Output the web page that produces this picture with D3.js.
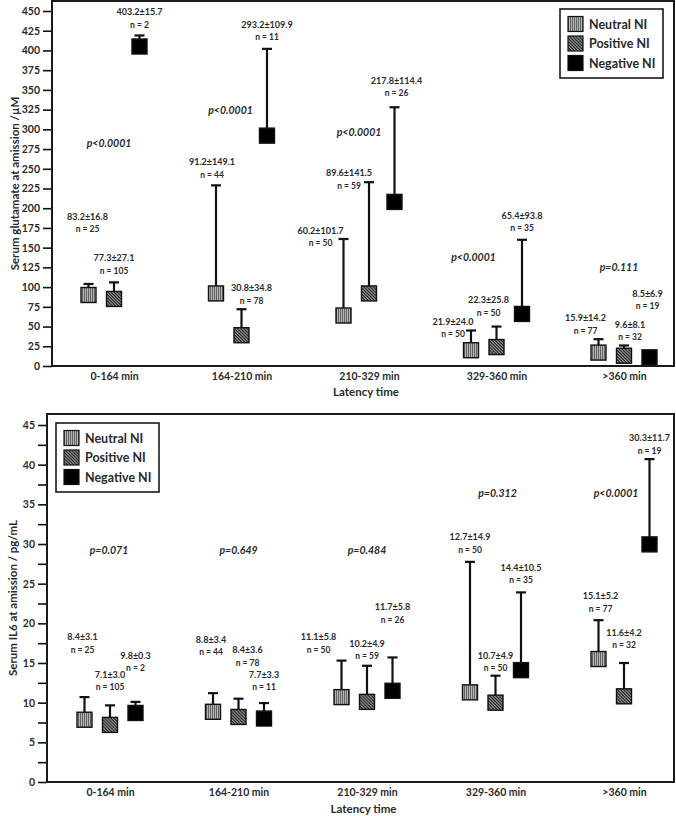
<!DOCTYPE html>
<html>
<head>
<meta charset="utf-8">
<script src="https://cdn.jsdelivr.net/npm/d3@7"></script>
<style>
  html, body { margin: 0; padding: 0; background: #fff; }
  svg { display: block; font-family: Lato, "Open Sans", sans-serif; }
</style>
</head>
<body>
<svg id="chart" width="676" height="816"></svg>
<script>
// ---------- shared categories ----------
const groups = ["0-164 min", "164-210 min", "210-329 min", "329-360 min", ">360 min"];
const series = ["Neutral NI", "Positive NI", "Negative NI"];

// ---------- Glutamate (top panel) ----------
const gluTicks = [0, 25, 50, 75, 100, 125, 150, 175, 200, 225, 250, 275, 300, 325, 350, 375, 400, 425, 450];
// plotted marker value and whisker top
const gluNeutral = [90, 92, 64, 20, 17];
const gluNeutralTop = [104, 229, 161, 45, 34];
const gluPositive = [85, 39, 92, 24, 13];
const gluPositiveTop = [106, 72, 233, 50, 26];
const gluNegative = [405, 292, 208, 66, 11];
const gluNegativeTop = [419, 402, 328, 160, 11];
// printed statistics
const gluNeutralStat = ["83.2±16.8", "91.2±149.1", "60.2±101.7", "21.9±24.0", "15.9±14.2"];
const gluNeutralN = [25, 44, 50, 50, 77];
const gluPositiveStat = ["77.3±27.1", "30.8±34.8", "89.6±141.5", "22.3±25.8", "9.6±8.1"];
const gluPositiveN = [105, 78, 59, 50, 32];
const gluNegativeStat = ["403.2±15.7", "293.2±109.9", "217.8±114.4", "65.4±93.8", "8.5±6.9"];
const gluNegativeN = [2, 11, 26, 35, 19];
const gluP = ["p<0.0001", "p<0.0001", "p<0.0001", "p<0.0001", "p=0.111"];

// ---------- IL6 (bottom panel) ----------
const il6Ticks = [0, 5, 10, 15, 20, 25, 30, 35, 40, 45];
const il6MinorTicks = [2.5, 7.5, 12.5, 17.5, 22.5, 27.5, 32.5, 37.5, 42.5];
const il6Neutral = [7.85, 8.85, 10.7, 11.3, 15.5];
const il6NeutralTop = [10.7, 11.2, 15.3, 27.75, 20.4];
const il6Positive = [7.2, 8.2, 10.1, 10.0, 10.8];
const il6PositiveTop = [9.66, 10.5, 14.65, 13.4, 15.0];
const il6Negative = [8.7, 8.0, 11.5, 14.1, 29.95];
const il6NegativeTop = [10.1, 9.95, 15.7, 23.9, 40.7];
const il6NeutralStat = ["8.4±3.1", "8.8±3.4", "11.1±5.8", "12.7±14.9", "15.1±5.2"];
const il6NeutralN = [25, 44, 50, 50, 77];
const il6PositiveStat = ["7.1±3.0", "8.4±3.6", "10.2±4.9", "10.7±4.9", "11.6±4.2"];
const il6PositiveN = [105, 78, 59, 50, 32];
const il6NegativeStat = ["9.8±0.3", "7.7±3.3", "11.7±5.8", "14.4±10.5", "30.3±11.7"];
const il6NegativeN = [2, 11, 26, 35, 19];
const il6P = ["p=0.071", "p=0.649", "p=0.484", "p=0.312", "p<0.0001"];

// ---------- annotation placement (value-space anchor + pixel nudge) ----------
const gluLabelAt = {
  neutral: {v: [190, 259, 172, 57, 61], dx: [-1, -4, -23, -18, -13]},
  positive: {v: [137, 99, 245, 84, 53], dx: [0, 10, -20, -8, 6]},
  negative: {v: [449, 433, 362, 191, 92.5], dx: [0, 0, 2, 0, -2]},
  p: {v: [283, 324, 297, 138, 125], dx: [-5, -11, -10, -23, -5]}
};
const il6LabelAt = {
  neutral: {v: [18.3, 18.0, 18.3, 30.9, 23.5], dx: [-2, -2, -23, 0, 2]},
  positive: {v: [13.6, 16.7, 17.5, 16.0, 18.9], dx: [0, 9, 0, 0, 0]},
  negative: {v: [16.0, 13.6, 22.1, 27.1, 43.4], dx: [0, 0, 0, 0, 0]},
  p: {v: [29.3, 29.3, 29.3, 36.4, 36.4], dx: [-1, 0, 0, 2, -8]}
};

const svg = d3.select("#chart");
const TEXT = "#2b2b2b";

// ---------- patterns ----------
const defs = svg.append("defs");
const pN = defs.append("pattern").attr("id", "patNeutral").attr("patternUnits", "userSpaceOnUse")
  .attr("width", 2).attr("height", 4);
pN.append("rect").attr("width", 2).attr("height", 4).attr("fill", "#b4b4b4");
pN.append("rect").attr("x", 0).attr("width", 0.9).attr("height", 4).attr("fill", "#5a5a5a");
const pP = defs.append("pattern").attr("id", "patPositive").attr("patternUnits", "userSpaceOnUse")
  .attr("width", 2.2).attr("height", 2.2).attr("patternTransform", "rotate(45)");
pP.append("rect").attr("width", 2.2).attr("height", 2.2).attr("fill", "#9a9a9a");
pP.append("rect").attr("width", 2.2).attr("height", 1.1).attr("fill", "#1e1e1e");
const fills = {"Neutral NI": "url(#patNeutral)", "Positive NI": "url(#patPositive)", "Negative NI": "#000"};

function panel(cfg) {
  const g = svg.append("g");
  const {left, right, top, bottom} = cfg.frame;
  const y = d3.scaleLinear().domain([0, cfg.yMax]).range([bottom, cfg.yTopPx]);
  const x = d3.scalePoint().domain(groups).range([left + cfg.xPad[0], right - cfg.xPad[1]]);
  const off = d3.scalePoint().domain(series).range([-25.5, 25.5]);

  // y axis ticks
  const ax = d3.axisLeft(y).tickValues(cfg.ticks).tickSize(9).tickPadding(3).tickFormat(d3.format("d"));
  const axG = g.append("g").attr("transform", `translate(${left},0)`).call(ax);
  axG.select(".domain").remove();
  axG.selectAll(".tick line").attr("stroke", "#111").attr("stroke-width", 1.6);
  axG.selectAll(".tick text").attr("fill", TEXT).attr("font-size", 10.5).attr("font-weight", 700)
    .attr("font-family", "Lato, sans-serif");
  if (cfg.minor) {
    const mi = d3.axisLeft(y).tickValues(cfg.minor).tickSize(9).tickFormat("");
    const mG = g.append("g").attr("transform", `translate(${left},0)`).call(mi);
    mG.select(".domain").remove();
    mG.selectAll(".tick line").attr("stroke", "#111").attr("stroke-width", 1.6);
  }

  // frame
  g.append("rect").attr("x", left).attr("y", top).attr("width", right - left).attr("height", bottom - top)
    .attr("fill", "none").attr("stroke", "#1a1a1a").attr("stroke-width", 2);

  // x labels
  const xa = d3.axisBottom(x).tickSize(0).tickPadding(7);
  const xG = g.append("g").attr("transform", `translate(0,${bottom})`).call(xa);
  xG.select(".domain").remove();
  xG.selectAll(".tick text").attr("fill", TEXT).attr("font-size", 10.5).attr("font-weight", 700)
    .attr("font-family", "Lato, sans-serif");

  // titles
  g.append("text").attr("x", (left + right) / 2 + 3).attr("y", bottom + cfg.xTitleDy)
    .attr("text-anchor", "middle").attr("dominant-baseline", "central").attr("fill", TEXT)
    .attr("font-size", 11.5).attr("font-weight", 700)
    .text("Latency time");
  g.append("text").attr("transform", `translate(${cfg.yTitleX},${(top + bottom) / 2}) rotate(-90)`)
    .attr("text-anchor", "middle").attr("dominant-baseline", "central").attr("fill", TEXT)
    .attr("font-size", 11.5).attr("font-weight", 700).text(cfg.yTitle);

  // marks
  const sq = 15, cap = 10;
  const rows = [];
  groups.forEach((grp, i) => {
    series.forEach((s, k) => {
      rows.push({grp, s, i, k, v: cfg.vals[k][i], top: cfg.tops[k][i],
        stat: cfg.stats[k][i], n: cfg.ns[k][i], lab: cfg.lab[k]});
    });
  });
  const mg = g.append("g");
  rows.forEach(r => {
    const cx = x(r.grp) + off(r.s);
    const cy = y(r.v);
    const ty = y(r.top);
    if (ty < cy - sq / 2) {
      mg.append("line").attr("x1", cx).attr("x2", cx).attr("y1", cy).attr("y2", ty)
        .attr("stroke", "#111").attr("stroke-width", 2.2);
      mg.append("line").attr("x1", cx - cap / 2).attr("x2", cx + cap / 2).attr("y1", ty).attr("y2", ty)
        .attr("stroke", "#111").attr("stroke-width", 2.2);
    }
    mg.append("rect").attr("x", cx - sq / 2).attr("y", cy - sq / 2).attr("width", sq).attr("height", sq)
      .attr("fill", fills[r.s]).attr("stroke", "#111").attr("stroke-width", 1.4);
    // labels
    const lx = cx + r.lab.dx[r.i];
    const ly = y(r.lab.v[r.i]);
    mg.append("text").attr("x", lx).attr("y", ly).attr("text-anchor", "middle").attr("dominant-baseline", "central")
      .attr("fill", TEXT).attr("font-size", 9).attr("font-weight", 700).text(r.stat);
    mg.append("text").attr("x", lx).attr("y", ly + 13).attr("text-anchor", "middle").attr("dominant-baseline", "central")
      .attr("fill", TEXT).attr("font-size", 8.5).attr("font-weight", 700).text("n = " + r.n);
  });
  // p-values
  groups.forEach((grp, i) => {
    g.append("text").attr("x", x(grp) + cfg.pLab.dx[i]).attr("y", y(cfg.pLab.v[i]))
      .attr("text-anchor", "middle").attr("dominant-baseline", "central")
      .attr("fill", TEXT).attr("font-size", 10.5).attr("font-weight", 700).attr("font-style", "italic")
      .text(cfg.p[i]);
  });

  // legend
  const lg = g.append("g").attr("transform", `translate(${cfg.legend[0]},${cfg.legend[1]})`);
  lg.append("rect").attr("width", 103).attr("height", 69).attr("fill", "#fff")
    .attr("stroke", "#1a1a1a").attr("stroke-width", 1.6);
  series.forEach((s, k) => {
    const row = lg.append("g").attr("transform", `translate(8,${15 + k * 19.5})`);
    row.append("rect").attr("x", 0).attr("y", -7.5).attr("width", 15).attr("height", 15)
      .attr("fill", fills[s]).attr("stroke", "#111").attr("stroke-width", 1.2);
    row.append("text").attr("x", 21).attr("y", 0).attr("dominant-baseline", "central")
      .attr("fill", TEXT).attr("font-size", 12.5).attr("font-weight", 700).text(s);
  });
}

panel({
  frame: {left: 52, right: 674, top: 1, bottom: 366},
  yMax: 450, yTopPx: 11, ticks: gluTicks, xPad: [62, 50],
  yTitle: "Serum glutamate at amission /µM", yTitleX: 14, xTitleDy: 25.5,
  vals: [gluNeutral, gluPositive, gluNegative],
  tops: [gluNeutralTop, gluPositiveTop, gluNegativeTop],
  stats: [gluNeutralStat, gluPositiveStat, gluNegativeStat],
  ns: [gluNeutralN, gluPositiveN, gluNegativeN],
  lab: [gluLabelAt.neutral, gluLabelAt.positive, gluLabelAt.negative],
  pLab: gluLabelAt.p, p: gluP,
  legend: [560, 9]
});

panel({
  frame: {left: 47, right: 674, top: 414, bottom: 782},
  yMax: 45, yTopPx: 425, ticks: il6Ticks, minor: il6MinorTicks, xPad: [63, 50],
  yTitle: "Serum IL6 at amission / pg/mL", yTitleX: 12, xTitleDy: 26.5,
  vals: [il6Neutral, il6Positive, il6Negative],
  tops: [il6NeutralTop, il6PositiveTop, il6NegativeTop],
  stats: [il6NeutralStat, il6PositiveStat, il6NegativeStat],
  ns: [il6NeutralN, il6PositiveN, il6NegativeN],
  lab: [il6LabelAt.neutral, il6LabelAt.positive, il6LabelAt.negative],
  pLab: il6LabelAt.p, p: il6P,
  legend: [56, 423]
});
</script>
</body>
</html>
